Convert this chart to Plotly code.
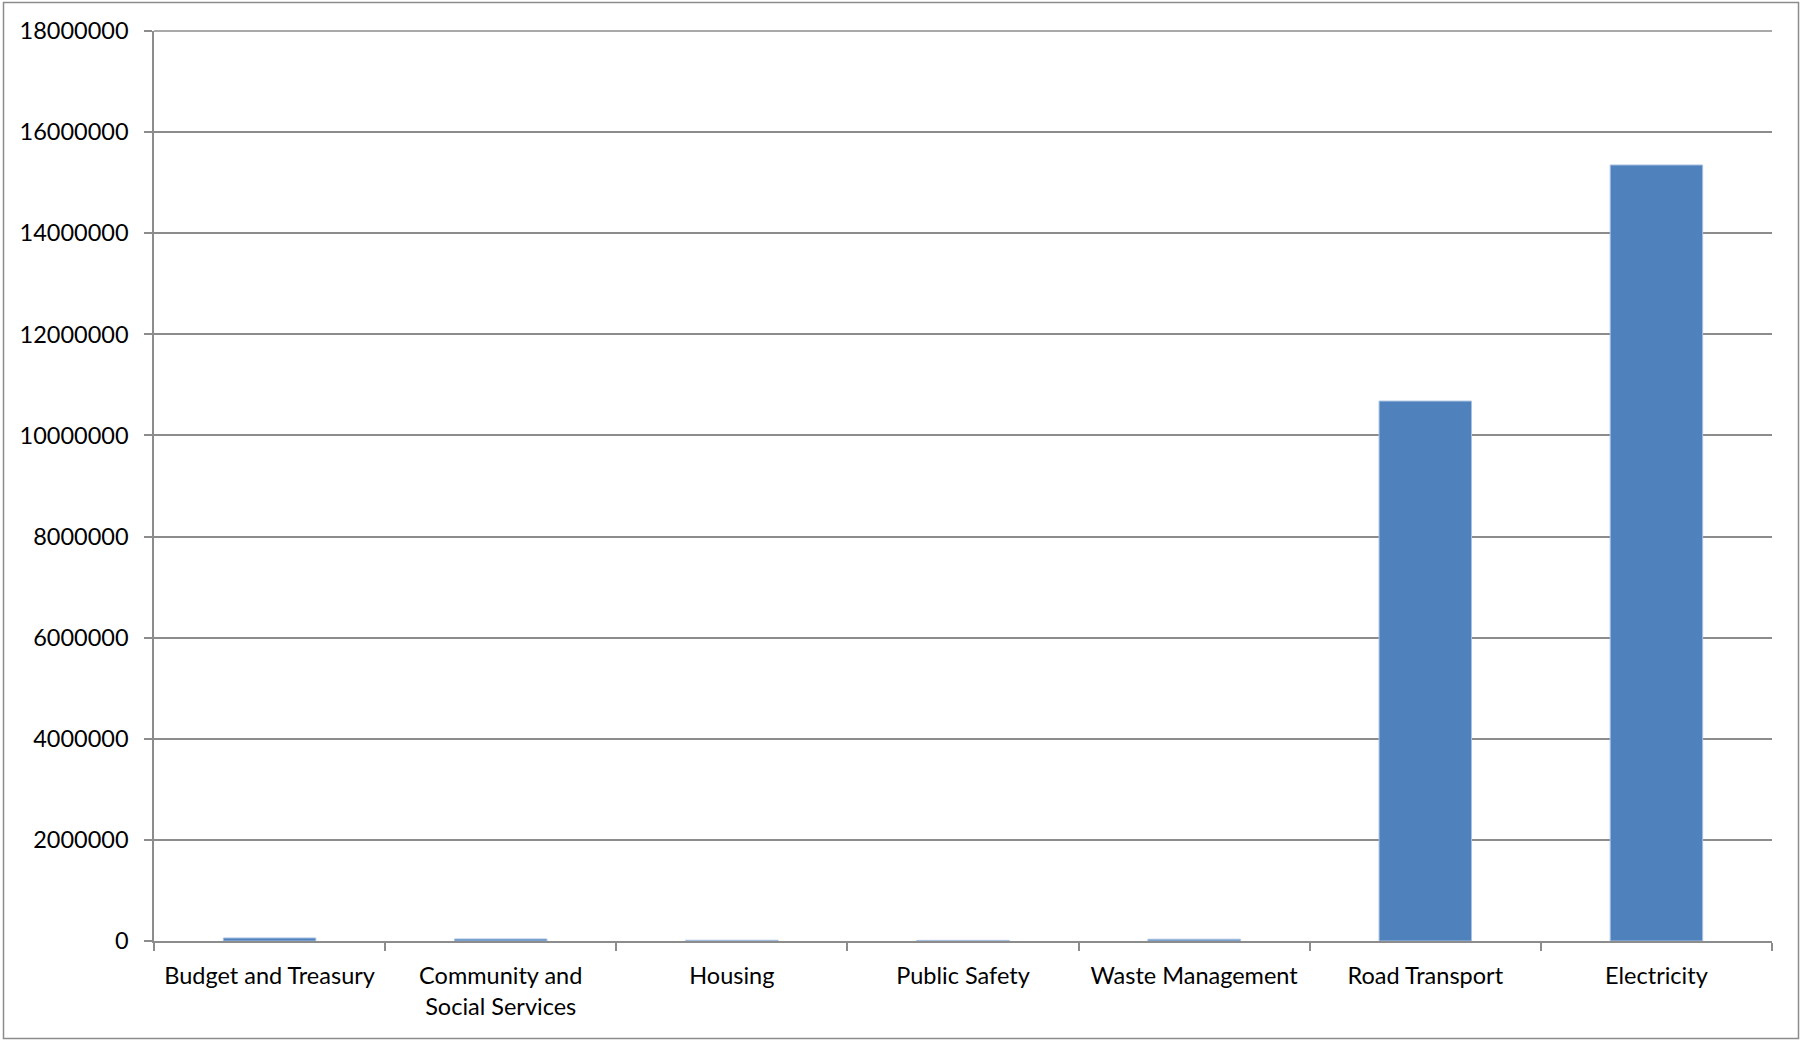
import plotly.graph_objects as go

categories = ["Budget and Treasury", "Community and<br>Social Services", "Housing",
              "Public Safety", "Waste Management", "Road Transport", "Electricity"]
values = [60000, 40000, 15000, 12000, 35000, 10680000, 15350000]
y_ticks = [0, 2000000, 4000000, 6000000, 8000000, 10000000, 12000000, 14000000, 16000000, 18000000]
y_max = 18000000

W, H = 1802, 1040
ML, MR, MT, MB = 154, 30, 31, 99
pw, ph = W - ML - MR, H - MT - MB

grey = "#8c8c8c"
font = dict(family="Lato, 'Open Sans', sans-serif", size=23.5, color="#000000")

fig = go.Figure(go.Bar(
    x=categories, y=values,
    marker=dict(color="#4F81BD", line=dict(color="#a9c1e0", width=1)),
))

fig.update_layout(
    width=W, height=H,
    margin=dict(l=ML, r=MR, t=MT, b=MB),
    paper_bgcolor="white", plot_bgcolor="white",
    bargap=0.6, showlegend=False, font=font,
    xaxis=dict(
        type="category", tickson="boundaries", ticks="outside", ticklen=8,
        tickcolor=grey, tickwidth=1.5, showline=True, linecolor=grey, linewidth=1.5,
        showgrid=False, tickfont=font, ticklabelstandoff=13,
    ),
    yaxis=dict(
        range=[0, y_max], tickvals=y_ticks, tickformat="d",
        ticks="outside", ticklen=8, tickcolor=grey, tickwidth=1.5,
        showline=True, linecolor=grey, linewidth=1.5,
        showgrid=True, gridcolor=grey, gridwidth=1.5, zeroline=False,
        tickfont=font, ticklabelstandoff=11,
    ),
    shapes=[
        dict(
            type="rect", xref="paper", yref="paper",
            x0=(3.5 - ML) / pw, x1=(W - 3.5 - ML) / pw,
            y0=-(MB - 1.5) / ph, y1=1 + (MT - 2.5) / ph,
            line=dict(color=grey, width=1.5), fillcolor="rgba(0,0,0,0)", layer="below",
        ),
        dict(
            type="line", xref="paper", yref="paper", x0=0, x1=1, y0=1, y1=1,
            line=dict(color=grey, width=1.5), layer="above",
        ),
    ],
)

fig.write_html("out.html")
